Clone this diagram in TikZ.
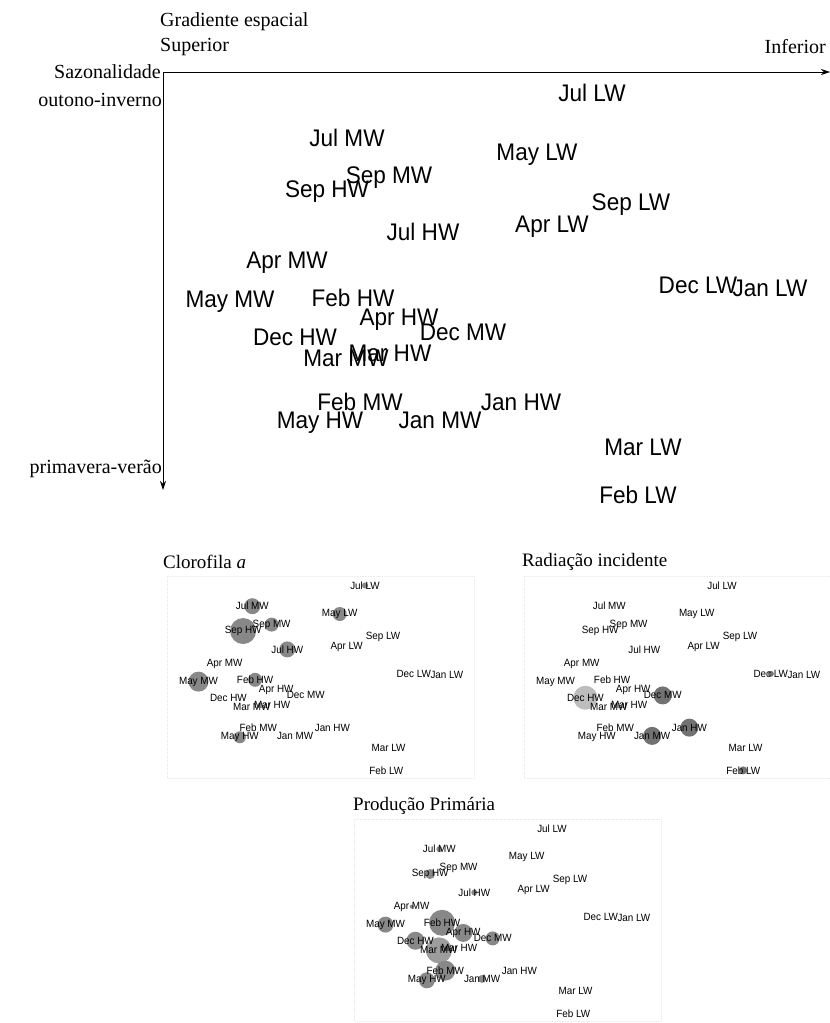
\documentclass[tikz,border=0pt]{standalone}
\usepackage{fontspec}
\usepackage{graphicx}
\setmainfont{Liberation Serif}
\newfontfamily\sitefont{Liberation Sans}
\usetikzlibrary{arrows.meta,backgrounds}

\newcommand\squeeze[1]{\scalebox{0.94}[1]{#1}}

\tikzset{
  axis/.style={-{Stealth[length=9pt,width=6pt]}, line width=0.9pt},
  ax label/.style={font=\fontsize{20}{20}\selectfont, inner sep=0pt},
  panel title/.style={font=\fontsize{19}{19}\selectfont, inner sep=0pt, anchor=west},
  site/.style={font=\sitefont\fontsize{24}{24}\selectfont, inner sep=0pt},
  mini site/.style={font=\sitefont\fontsize{10.5}{10.5}\selectfont, inner sep=0pt},
  frame/.style={black!8, densely dotted, line width=0.6pt},
  bubble/.style={fill=black!55, opacity=0.85}
}

% sites: name/x/y/text
\newcommand\sitelist{JulLW/592/93/Jul LW, JulMW/347/138/Jul MW, MayLW/537/155/May LW,
  SepMW/389/178/Sep MW, SepHW/327/192/Sep HW, SepLW/631/205/Sep LW, JulHW/423/232/Jul HW,
  AprLW/552/227/Apr LW, AprMW/287/263/Apr MW, DecLW/698/285/Dec LW, JanLW/770/288/Jan LW,
  MayMW/230/302/May MW, FebHW/353/298/Feb HW, AprHW/399/320/Apr HW, DecMW/463/332/Dec MW,
  DecHW/295/337/Dec HW, MarHW/390/353/Mar HW, MarMW/346/358/Mar MW, FebMW/360/402/Feb MW,
  JanHW/521/402/Jan HW, JanMW/440/420/Jan MW, MayHW/320/423/May HW, MarLW/643/447/Mar LW,
  FebLW/638/495/Feb LW}

% small copy of the ordination
\newcommand\minipanel[2]{%
  \begin{scope}[shift={#2}, scale=0.46]
    \draw[frame] (163,72) rectangle (830,512);
    \foreach \n/\x/\y/\t in \sitelist
      \node[mini site] (#1\n) at (\x,\y) {\squeeze{\t}};
  \end{scope}}

\begin{document}
\begin{tikzpicture}[x=1pt, y=-1pt]
\useasboundingbox (0,0) rectangle (830,1023);

% main ordination
\coordinate (o) at (163,72);
\coordinate (xend) at (830,72);
\coordinate (yend) at (163,490);
\draw[axis] (o) -- (xend);
\draw[axis] (o) -- (yend);
\node[ax label, anchor=west] (grad) at (160,22) {Gradiente espacial};
\node[ax label, anchor=west] (sup) at (160,47) {Superior};
\node[ax label, anchor=east] (inf) at (826,47) {Inferior};
\node[ax label, anchor=east] (saz) at (161,72) {Sazonalidade};
\node[ax label, anchor=east] (oi) at (162,100) {outono-inverno};
\node[ax label, anchor=east] (pv) at (162,469) {primavera-verão};
\foreach \n/\x/\y/\t in \sitelist
  \node[site] (\n) at (\x,\y) {\squeeze{\t}};

% Clorofila a
\node[panel title] (tclo) at (163,562) {Clorofila \textit{a}};
\minipanel{c}{(92.7,542.7)}
% Radiacao incidente
\node[panel title] (trad) at (522,562) {Radiação incidente};
\minipanel{r}{(449.7,542.7)}
% Producao primaria
\node[panel title] (tpp) at (353,806) {Produção Primária};
\minipanel{p}{(279.7,785.7)}

\begin{pgfonlayer}{background}
  \foreach \n/\r in {JulMW/8, SepHW/13, SepMW/7, MayLW/7, JulHW/8, MayMW/10, FebHW/7, MayHW/6, JulLW/3}
    \fill[bubble] (c\n) circle (\r pt);
  \fill[bubble, fill=black!30] (rDecHW) circle (12pt);
  \foreach \n/\r in {DecMW/9, JanHW/9, JanMW/9, FebLW/4, DecLW/3}
    \fill[bubble, fill=black!65] (r\n) circle (\r pt);
  \foreach \n/\r in {JulMW/3, SepHW/5, JulHW/3, AprMW/2, MayMW/8, FebHW/13, AprHW/9, DecMW/7, DecHW/9, FebMW/10, MayHW/8, JanMW/4}
    \fill[bubble] (p\n) circle (\r pt);
  \fill[bubble, fill=black!45] (pMarMW) circle (13pt);
\end{pgfonlayer}
\end{tikzpicture}
\end{document}
